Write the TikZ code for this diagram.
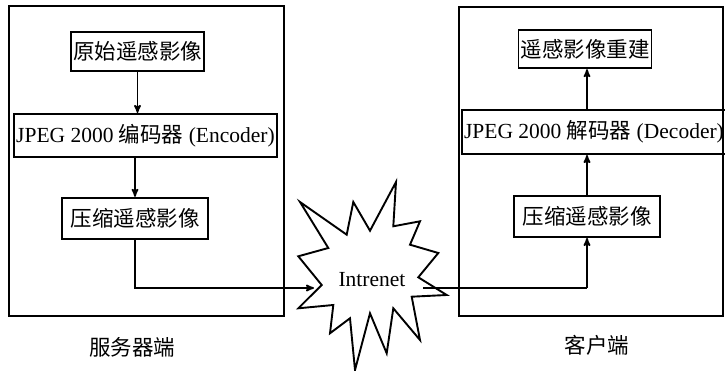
\documentclass[tikz,border=0pt]{standalone}
\usepackage{fontspec}
\setmainfont{Liberation Serif}
\newfontfamily\cjk{Noto Sans CJK SC}
\usetikzlibrary{arrows,positioning}

\begin{document}
\begin{tikzpicture}[x=1pt, y=-1pt, >=stealth', font=\fontsize{21.5}{24}\selectfont,
    side/.style={draw, line width=2.4pt, inner sep=0pt},
    block/.style={draw, line width=1.9pt, minimum height=40pt, inner sep=2pt},
    link/.style={->, line width=1.7pt}]
    \useasboundingbox (0,0) rectangle (725,371);

    % Frames {server, client}
    \node [side, minimum width=275pt, minimum height=310pt] (server) at (146.5,161) {};
    \node [side, minimum width=264pt, minimum height=309pt] (client) at (591,161.5) {};

    % Nodes {raw, enc, cmp} on the server side
    \node [block, minimum width=131pt, minimum height=39pt] (raw) at (137.5,51.5) {\cjk 原始遥感影像};
    \node [block, minimum width=263pt, minimum height=43pt] (enc) [below=41pt of raw, xshift=8pt] {JPEG 2000 {\cjk 编码器} (Encoder)};
    \node [block, minimum width=146pt, minimum height=41pt] (cmp) [below=39pt of enc, xshift=-10.5pt] {\cjk 压缩遥感影像};

    % Nodes {dcmp, dec, rec} on the client side
    \node [block, minimum width=146pt, minimum height=41pt] (dcmp) at (587,216.5) {\cjk 压缩遥感影像};
    \node [block, minimum width=258pt, minimum height=44pt] (dec) [above=40pt of dcmp, xshift=7pt] {JPEG 2000 {\cjk 解码器} (Decoder)};
    \node [block, minimum width=132pt, minimum height=38pt] (rec) [above=40pt of dec, xshift=-9pt] {\cjk 遥感影像重建};

    % Network
    \draw [line width=1.9pt, fill=white] (300,202) -- (346.7,234.7) -- (353.3,202) -- (370,230.7)
        -- (396,182) -- (393.3,226.3) -- (420,221.3) -- (410,244.7) -- (438.3,253)
        -- (418.3,277.3) -- (446.7,295) -- (411.7,296.7) -- (420,340) -- (393.3,308.3)
        -- (386.7,353.3) -- (370,313.3) -- (355,370) -- (350,318.3) -- (330,333.3)
        -- (333.3,305) -- (298.3,308.3) -- (321.7,285) -- (298.3,256.3) -- (328.3,248) -- cycle;
    \node (net) at (372,280) {Intrenet};
    \coordinate (netin) at (314,288);
    \coordinate (netout) at (423,288);

    % Labels
    \node (srvlabel) at (132,347) {\cjk 服务器端};
    \node (clilabel) at (597,345) {\cjk 客户端};

    % Paths
    \draw [link] (raw) -- (raw |- enc.north);
    \draw [link] (enc.south -| cmp) -- (cmp);
    \draw [link] (cmp) |- (netin);
    \draw [link, -] (netout) -- (netout -| dcmp.south);
    \draw [link] (netout -| dcmp.south) -- (dcmp);
    \draw [link] (dcmp) -- (dcmp |- dec.south);
    \draw [link] (dec.north -| dcmp) -- (dcmp |- rec.south);
\end{tikzpicture}
\end{document}
